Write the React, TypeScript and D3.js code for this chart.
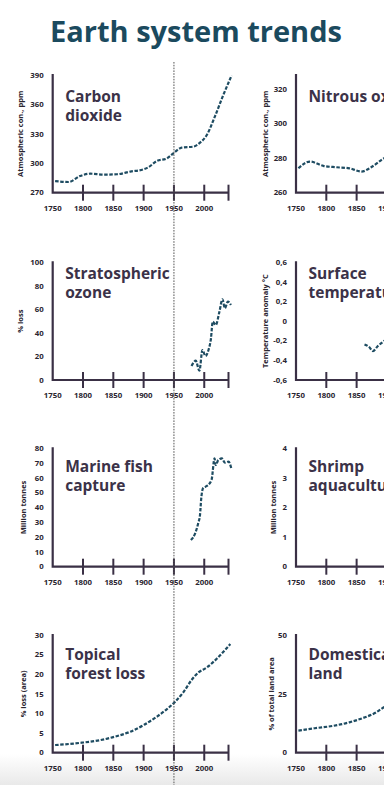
import React from 'react';
import * as d3 from 'd3';

// ---- data ----
const xTickYears = [1800, 1850, 1900, 1950, 2000, 2040];
const xTickLabels = ['1750', '1800', '1850', '1900', '1950', '2000'];

const co2Years = [1754, 1776, 1795, 1812, 1834, 1856, 1878, 1900, 1908, 1922, 1938, 1949, 1963, 1982, 1993, 2004, 2018, 2031, 2045];
const co2Values = [281.9, 280.9, 287, 289.4, 288.4, 288.8, 291.5, 293.9, 296, 302.4, 304.8, 310.2, 316, 317, 321, 328.6, 348.4, 368.9, 389.3];
const co2Ticks = [270, 300, 330, 360, 390];

const n2oYears = [1754, 1773, 1795, 1817, 1838, 1858, 1874, 1893, 1950, 2000, 2040];
const n2oValues = [274.1, 278, 275.5, 274.7, 274.1, 272.2, 274.7, 279.4, 290, 315, 325];
const n2oTicks = [260, 280, 300, 320];

const ozoneYears = [1979, 1986, 1992, 1997, 2002, 2007, 2011, 2014, 2019, 2025, 2030, 2034, 2039, 2044];
const ozoneValues = [11.9, 16.4, 7.9, 25.5, 20.4, 25.5, 35, 49.6, 46.7, 58, 68.6, 61, 66.6, 63.7];
const ozoneTicks = [0, 20, 40, 60, 80, 100];

const tempYears = [1863, 1870, 1877, 1885, 1893, 1950, 2000, 2040];
const tempValues = [-0.237, -0.26, -0.305, -0.254, -0.214, -0.05, 0.3, 0.55];
const tempTicks = [-0.6, -0.4, -0.2, 0, 0.2, 0.4, 0.6];
const tempTickLabels = ['-0,6', '-0,4', '-0,2', '0', '0,2', '0,4', '0,6'];

const fishYears = [1978, 1985, 1990, 1993, 1995, 1998, 2004, 2012, 2017, 2019, 2023, 2029, 2034, 2040, 2045];
const fishValues = [18, 22.5, 29.3, 35, 46, 53, 54.5, 58.6, 73.2, 68.7, 72, 73.2, 70.3, 71, 65.8];
const fishTicks = [0, 10, 20, 30, 40, 50, 60, 70, 80];

const shrimpYears = [1975, 2000, 2040];
const shrimpValues = [0.1, 1, 3.5];
const shrimpTicks = [0, 1, 2, 3, 4];

const forestYears = [1754, 1798, 1828, 1853, 1878, 1900, 1922, 1938, 1952, 1966, 1979, 1990, 2004, 2021, 2043];
const forestValues = [1.95, 2.55, 3.2, 4.1, 5.35, 7.05, 9.2, 11.05, 13, 15.5, 18.5, 20.4, 21.7, 24, 27.7];
const forestTicks = [0, 5, 10, 15, 20, 25, 30];

const landYears = [1754, 1781, 1811, 1838, 1860, 1882, 1893, 1950, 2000, 2040];
const landValues = [9.4, 10.4, 11.4, 12.9, 14.7, 17.1, 19, 28, 36, 38];
const landTicks = [0, 25, 50];

// ---- layout ----
const colX = [52.7, 296];
const rowTop = [75, 262.3, 448.3, 635];
const rowBottom = [192.7, 380, 566.7, 752.7];
const titleBase = [101.5, 279.3, 471.7, 659.5];
const plotW = 175.8;

const axisColor = '#3a3045';
const lineColor = '#1e4c62';
const font = '"Open Sans", sans-serif';

const panels = [
  { col: 0, row: 0, title: ['Carbon', 'dioxide'], yLabel: 'Atmospheric con., ppm', domain: [270, 390], ticks: co2Ticks, years: co2Years, values: co2Values, yTitleDx: -32 },
  { col: 1, row: 0, title: ['Nitrous oxide'], yLabel: 'Atmospheric con., ppm', domain: [260, 328], ticks: n2oTicks, years: n2oYears, values: n2oValues, yTitleDx: -31 },
  { col: 0, row: 1, title: ['Stratospheric', 'ozone'], yLabel: '% loss', domain: [0, 100], ticks: ozoneTicks, years: ozoneYears, values: ozoneValues, yTitleDx: -32 },
  { col: 1, row: 1, title: ['Surface', 'temperature'], yLabel: 'Temperature anomaly °C', domain: [-0.6, 0.6], ticks: tempTicks, labels: tempTickLabels, years: tempYears, values: tempValues, yTitleDx: -31 },
  { col: 0, row: 2, title: ['Marine fish', 'capture'], yLabel: 'Million tonnes', domain: [0, 80], ticks: fishTicks, years: fishYears, values: fishValues, yTitleDx: -29 },
  { col: 1, row: 2, title: ['Shrimp', 'aquaculture'], yLabel: 'Million tonnes', domain: [0, 4], ticks: shrimpTicks, years: shrimpYears, values: shrimpValues, yTitleDx: -23 },
  { col: 0, row: 3, title: ['Topical', 'forest loss'], yLabel: '% loss (area)', domain: [0, 30], ticks: forestTicks, years: forestYears, values: forestValues, yTitleDx: -29 },
  { col: 1, row: 3, title: ['Domesticated', 'land'], yLabel: '% of total land area', domain: [0, 50], ticks: landTicks, years: landYears, values: landValues, yTitleDx: -25 },
];

const Panel = ({ p }: { p: any }) => {
  const x0 = colX[p.col];
  const top = rowTop[p.row];
  const bottom = rowBottom[p.row];
  const x = d3.scaleLinear().domain([1750, 2040]).range([x0, x0 + plotW]);
  const y = d3.scaleLinear().domain(p.domain).range([bottom, top]);
  const pts = p.years.map((yr: number, i: number) => [yr, p.values[i]]);
  const line = d3.line<number[]>().curve(d3.curveMonotoneX).x(d => x(d[0])).y(d => y(d[1]));

  return (
    <g>
      {/* y axis title */}
      <text
        transform={`translate(${x0 + p.yTitleDx},${(top + bottom) / 2}) rotate(-90)`}
        textAnchor="middle" dy="0.35em" fontSize={7.5} fontWeight={700} fill="#2a2530" fontFamily={font}
      >{p.yLabel}</text>

      {/* y tick labels */}
      {p.ticks.map((t: number, i: number) => (
        <text key={t} x={x0 - 9} y={y(t)} dy="0.35em" textAnchor="end" fontSize={7.8} fontWeight={700} fill="#2a2530" fontFamily={font}>
          {p.labels ? p.labels[i] : String(t)}
        </text>
      ))}

      {/* x ticks */}
      {xTickYears.map(yr => (
        <line key={yr} x1={x(yr)} x2={x(yr)} y1={bottom - 8} y2={bottom + 8} stroke={axisColor} strokeWidth={2} />
      ))}
      {xTickLabels.map(l => (
        <text key={l} x={x(+l)} y={bottom + 18} textAnchor="middle" fontSize={7.8} fontWeight={700} fill="#2a2530" fontFamily={font}>{l}</text>
      ))}

      {/* axes */}
      <path d={`M${x0},${rowTop[p.row] - 1}V${bottom}H${x(2040)}`} fill="none" stroke={axisColor} strokeWidth={2.2} />

      {/* panel title */}
      {p.title.map((t: string, i: number) => (
        <text key={t} x={x0 + 12.5} y={titleBase[p.row] + i * 19} fontSize={15.5} fontWeight={700} fill="#3b3248" fontFamily={font}>{t}</text>
      ))}

      {/* series */}
      <path d={line(pts) || ''} fill="none" stroke={lineColor} strokeWidth={2.2} strokeDasharray="3.5,1.6" />
    </g>
  );
};

export default function App() {
  const xLeft = d3.scaleLinear().domain([1750, 2040]).range([colX[0], colX[0] + plotW]);
  return (
    <svg width={384} height={785} style={{ position: 'absolute', left: 0, top: 0, background: '#fff' }}>
      <defs>
        <linearGradient id="fade" x1="0" y1="0" x2="0" y2="1">
          <stop offset="0%" stopColor="#ffffff" />
          <stop offset="100%" stopColor="#e9e9e9" />
        </linearGradient>
      </defs>
      <rect x={0} y={0} width={384} height={785} fill="#fff" />
      <rect x={0} y={754} width={384} height={31} fill="url(#fade)" />

      <text x={196} y={41.5} textAnchor="middle" fontSize={29} fontWeight={700} fill="#1b4a5e" fontFamily={font}>Earth system trends</text>

      {panels.map((p, i) => <Panel key={i} p={p} />)}

      {/* 1950 marker */}
      <line x1={xLeft(1950)} x2={xLeft(1950)} y1={62} y2={785} stroke="#555" strokeWidth={1} strokeDasharray="1.6,1.2" />
    </svg>
  );
}
